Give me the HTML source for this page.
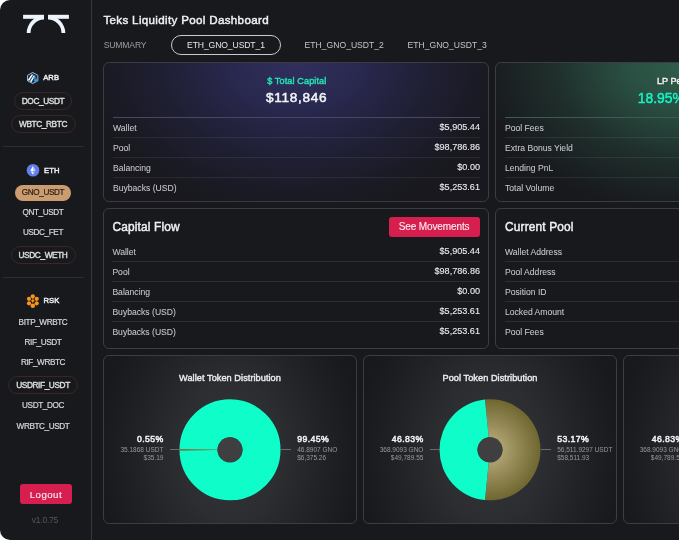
<!DOCTYPE html><html><head><meta charset="utf-8"><title>Teks Liquidity Pool Dashboard</title><style>
*{margin:0;padding:0;box-sizing:border-box}
html,body{width:679px;height:540px;overflow:hidden;background:#fff}
body{position:relative;font-family:"Liberation Sans",Arial,sans-serif}
.app{position:absolute;left:0;top:0;width:900px;height:540px;background:#18191d;border-radius:10px 0 0 10px;overflow:hidden}
.t{position:absolute;line-height:1;white-space:nowrap}
</style></head><body><div class="app">
<div style="position:absolute;left:91px;top:0px;width:1px;height:540px;background:#34373b"></div>
<svg style="position:absolute;left:0;top:0" width="91" height="40" viewBox="0 0 91 40"><g fill="#eef4fb">
<rect x="23.1" y="14.8" width="20.9" height="4"/>
<path d="M44 15.7 A17.3 17.3 0 0 0 26.7 33 L30.5 33 A13.5 13.5 0 0 1 44 19.5 Z"/>
<rect x="48" y="14.8" width="20.9" height="4"/>
<path d="M48 15.7 A17.3 17.3 0 0 1 65.3 33 L61.5 33 A13.5 13.5 0 0 0 48 19.5 Z"/>
</g></svg>
<svg style="position:absolute;left:24px;top:69px" width="18" height="18" viewBox="0 0 18 18">
<polygon points="8.7,3.4 13.9,6.3 13.9,11.8 8.7,14.6 3.5,11.8 3.5,6.3" fill="#22344c" stroke="#8fb6da" stroke-width="1" stroke-linejoin="round"/>
<path d="M3.6 11.2 L7.6 5.6 L9.2 5.6 L5.2 11.8 Z" fill="#fff"/>
<path d="M6 12.6 L9.6 6.6 L11 6.8 L7.4 13.2 Z" fill="#fff"/>
<path d="M9.4 8.4 L11 7.6 L13.8 11.6 L12.3 13.2 L10.4 12.4 Z" fill="#28a0f0"/>
<path d="M10.2 10.2 L12.6 9.6" stroke="#1a3350" stroke-width="0.7"/>
</svg>
<div class="t" style="top:74.37px;font-size:7.6px;color:#ebebed;letter-spacing:0.1px;-webkit-text-stroke:0.45px #ebebed;left:43.20px;">ARB</div>
<div style="position:absolute;left:14.0px;top:92px;width:58px;height:18px;border-radius:9.0px;border:1px solid #3b2621"></div>
<div class="t" style="top:97.37px;font-size:8.3px;color:#dcdcde;letter-spacing:-0.4px;-webkit-text-stroke:0.4px #dcdcde;left:-257.00px;width:600px;text-align:center;">DOC_USDT</div>
<div style="position:absolute;left:10.5px;top:114.7px;width:65px;height:18px;border-radius:9.0px;border:1px solid #3b2621"></div>
<div class="t" style="top:119.57px;font-size:8.3px;color:#dcdcde;letter-spacing:-0.4px;-webkit-text-stroke:0.4px #dcdcde;left:-257.00px;width:600px;text-align:center;">WBTC_RBTC</div>
<div style="position:absolute;left:3px;top:146px;width:81px;height:1px;background:#2b2d31"></div>
<svg style="position:absolute;left:26px;top:164px" width="14" height="14" viewBox="0 0 14 14">
<circle cx="7" cy="6.3" r="6.3" fill="#627eea"/>
<path d="M7 1.9 L7 7.8 L4.4 6.4 Z" fill="#fff"/>
<path d="M7 1.9 L9.6 6.4 L7 7.8 Z" fill="#fff" opacity="0.6"/>
<path d="M7 8.4 L7 10.7 L4.4 7.1 Z" fill="#fff"/>
<path d="M7 8.4 L9.6 7.1 L7 10.7 Z" fill="#fff" opacity="0.6"/>
</svg>
<div class="t" style="top:166.67px;font-size:7.6px;color:#ebebed;letter-spacing:0.1px;-webkit-text-stroke:0.45px #ebebed;left:44.00px;">ETH</div>
<div style="position:absolute;left:15px;top:184.7px;width:56px;height:16px;border-radius:8.0px;background:#cc9c71"></div>
<div class="t" style="top:188.66px;font-size:8.2px;color:#2b2119;letter-spacing:-0.4px;-webkit-text-stroke:0.2px #2b2119;left:-257.00px;width:600px;text-align:center;">GNO_USDT</div>
<div class="t" style="top:208.96px;font-size:8.2px;color:#d6d6d8;letter-spacing:-0.4px;-webkit-text-stroke:0.2px #d6d6d8;left:-257.00px;width:600px;text-align:center;">QNT_USDT</div>
<div class="t" style="top:229.36px;font-size:8.2px;color:#d6d6d8;letter-spacing:-0.4px;-webkit-text-stroke:0.2px #d6d6d8;left:-257.00px;width:600px;text-align:center;">USDC_FET</div>
<div style="position:absolute;left:10.5px;top:245.8px;width:65px;height:18px;border-radius:9.0px;border:1px solid #3b2621"></div>
<div class="t" style="top:250.57px;font-size:8.3px;color:#dcdcde;letter-spacing:-0.4px;-webkit-text-stroke:0.4px #dcdcde;left:-257.00px;width:600px;text-align:center;">USDC_WETH</div>
<div style="position:absolute;left:3px;top:277px;width:81px;height:1px;background:#2b2d31"></div>
<svg style="position:absolute;left:24px;top:292px" width="18" height="18" viewBox="0 0 18 18"><g fill="#f8951d">
<circle cx="8.8" cy="4.3" r="2.1"/><circle cx="5" cy="6.8" r="2.1"/><circle cx="12.7" cy="6.8" r="2.1"/>
<circle cx="5" cy="11.3" r="2.1"/><circle cx="12.7" cy="11.3" r="2.1"/><circle cx="8.8" cy="13.7" r="2.3"/>
<path d="M6.8 8 L10.8 8 L8.8 11 Z"/><rect x="7.9" y="6.4" width="1.8" height="1.2"/></g></svg>
<div class="t" style="top:297.47px;font-size:7.6px;color:#ebebed;letter-spacing:0.1px;-webkit-text-stroke:0.45px #ebebed;left:43.40px;">RSK</div>
<div class="t" style="top:319.36px;font-size:8.2px;color:#d6d6d8;letter-spacing:-0.4px;-webkit-text-stroke:0.2px #d6d6d8;left:-257.00px;width:600px;text-align:center;">BITP_WRBTC</div>
<div class="t" style="top:339.36px;font-size:8.2px;color:#d6d6d8;letter-spacing:-0.4px;-webkit-text-stroke:0.2px #d6d6d8;left:-257.00px;width:600px;text-align:center;">RIF_USDT</div>
<div class="t" style="top:359.46px;font-size:8.2px;color:#d6d6d8;letter-spacing:-0.4px;-webkit-text-stroke:0.2px #d6d6d8;left:-257.00px;width:600px;text-align:center;">RIF_WRBTC</div>
<div style="position:absolute;left:8.0px;top:376.4px;width:70px;height:18px;border-radius:9.0px;border:1px solid #3b2621"></div>
<div class="t" style="top:381.37px;font-size:8.3px;color:#dcdcde;letter-spacing:-0.4px;-webkit-text-stroke:0.4px #dcdcde;left:-257.00px;width:600px;text-align:center;">USDRIF_USDT</div>
<div class="t" style="top:402.46px;font-size:8.2px;color:#d6d6d8;letter-spacing:-0.4px;-webkit-text-stroke:0.2px #d6d6d8;left:-257.00px;width:600px;text-align:center;">USDT_DOC</div>
<div class="t" style="top:422.66px;font-size:8.2px;color:#d6d6d8;letter-spacing:-0.4px;-webkit-text-stroke:0.2px #d6d6d8;left:-257.00px;width:600px;text-align:center;">WRBTC_USDT</div>
<div style="position:absolute;left:20px;top:484px;width:52px;height:20px;background:#d61f4f;border-radius:3px"></div>
<div class="t" style="top:489.99px;font-size:9.7px;color:#fbeef1;letter-spacing:0.45px;-webkit-text-stroke:0.12px #fbeef1;left:-254.10px;width:600px;text-align:center;">Logout</div>
<div class="t" style="top:515.90px;font-size:8.5px;color:#53575d;letter-spacing:-0.2px;left:-255.10px;width:600px;text-align:center;">v1.0.75</div>
<div class="t" style="top:13.78px;font-size:11.6px;color:#f0f0f2;letter-spacing:0.33px;-webkit-text-stroke:0.45px #f0f0f2;left:103.40px;">Teks Liquidity Pool Dashboard</div>
<div class="t" style="top:40.92px;font-size:8.6px;color:#9c9ea2;letter-spacing:-0.15px;left:103.70px;">SUMMARY</div>
<div style="position:absolute;left:171px;top:35px;width:110px;height:20px;border:1px solid #c9cacd;border-radius:10px"></div>
<div class="t" style="top:40.92px;font-size:8.6px;color:#e6e6e8;letter-spacing:-0.1px;left:187.00px;">ETH_GNO_USDT_1</div>
<div class="t" style="top:40.92px;font-size:8.6px;color:#c4c5c8;left:304.60px;">ETH_GNO_USDT_2</div>
<div class="t" style="top:40.92px;font-size:8.6px;color:#c4c5c8;left:407.50px;">ETH_GNO_USDT_3</div>
<div style="position:absolute;left:103px;top:62px;width:386px;height:140px;border:1px solid #3a3b45;border-radius:6px;background:radial-gradient(ellipse 210px 150px at 50% 0%,#31305e 0%,#29284f 30%,#1f1f33 65%,#18181e 100%)"></div>
<div class="t" style="top:76.80px;font-size:9.1px;color:#22e6b4;letter-spacing:0.12px;-webkit-text-stroke:0.4px #22e6b4;left:-3.20px;width:600px;text-align:center;">$ Total Capital</div>
<div class="t" style="top:90.99px;font-size:13.6px;color:#f4f4f7;letter-spacing:0.7px;-webkit-text-stroke:0.5px #f4f4f7;left:-3.40px;width:600px;text-align:center;">$118,846</div>
<div style="position:absolute;left:113px;top:117px;width:367px;height:1px;background:#474860"></div>
<div class="t" style="top:123.82px;font-size:8.6px;color:#c9cace;-webkit-text-stroke:0.05px #c9cace;left:113.00px;">Wallet</div>
<div class="t" style="top:123.40px;font-size:9.1px;color:#ececee;-webkit-text-stroke:0.1px #ececee;left:80.00px;width:400px;text-align:right;">$5,905.44</div>
<div style="position:absolute;left:113px;top:137px;width:367px;height:1px;background:rgba(255,255,255,0.07)"></div>
<div class="t" style="top:143.82px;font-size:8.6px;color:#c9cace;-webkit-text-stroke:0.05px #c9cace;left:113.00px;">Pool</div>
<div class="t" style="top:143.40px;font-size:9.1px;color:#ececee;-webkit-text-stroke:0.1px #ececee;left:80.00px;width:400px;text-align:right;">$98,786.86</div>
<div style="position:absolute;left:113px;top:157px;width:367px;height:1px;background:rgba(255,255,255,0.07)"></div>
<div class="t" style="top:163.82px;font-size:8.6px;color:#c9cace;-webkit-text-stroke:0.05px #c9cace;left:113.00px;">Balancing</div>
<div class="t" style="top:163.40px;font-size:9.1px;color:#ececee;-webkit-text-stroke:0.1px #ececee;left:80.00px;width:400px;text-align:right;">$0.00</div>
<div style="position:absolute;left:113px;top:177px;width:367px;height:1px;background:rgba(255,255,255,0.07)"></div>
<div class="t" style="top:183.82px;font-size:8.6px;color:#c9cace;-webkit-text-stroke:0.05px #c9cace;left:113.00px;">Buybacks (USD)</div>
<div class="t" style="top:183.40px;font-size:9.1px;color:#ececee;-webkit-text-stroke:0.1px #ececee;left:80.00px;width:400px;text-align:right;">$5,253.61</div>
<div style="position:absolute;left:495px;top:62px;width:386px;height:140px;border:1px solid #3a3f3e;border-radius:6px;background:radial-gradient(ellipse 210px 150px at 50% 0%,#2f5e4c 0%,#2a4f42 30%,#1f2e2b 65%,#18191d 100%)"></div>
<div class="t" style="top:76.60px;font-size:9.1px;color:#f2f2f5;-webkit-text-stroke:0.4px #f2f2f5;left:657.00px;">LP Performance</div>
<div class="t" style="top:91.53px;font-size:13.9px;color:#14f4c2;-webkit-text-stroke:0.45px #14f4c2;left:637.80px;">18.95%</div>
<div style="position:absolute;left:505px;top:117px;width:400px;height:1px;background:#3f5a50"></div>
<div class="t" style="top:123.82px;font-size:8.6px;color:#c9cace;-webkit-text-stroke:0.05px #c9cace;left:505.00px;">Pool Fees</div>
<div style="position:absolute;left:505px;top:137px;width:400px;height:1px;background:rgba(255,255,255,0.075)"></div>
<div class="t" style="top:143.82px;font-size:8.6px;color:#c9cace;-webkit-text-stroke:0.05px #c9cace;left:505.00px;">Extra Bonus Yield</div>
<div style="position:absolute;left:505px;top:157px;width:400px;height:1px;background:rgba(255,255,255,0.075)"></div>
<div class="t" style="top:163.82px;font-size:8.6px;color:#c9cace;-webkit-text-stroke:0.05px #c9cace;left:505.00px;">Lending PnL</div>
<div style="position:absolute;left:505px;top:177px;width:400px;height:1px;background:rgba(255,255,255,0.075)"></div>
<div class="t" style="top:183.82px;font-size:8.6px;color:#c9cace;-webkit-text-stroke:0.05px #c9cace;left:505.00px;">Total Volume</div>
<div style="position:absolute;left:103px;top:208px;width:386px;height:141px;border:1px solid #3a3d41;border-radius:6px"></div>
<div class="t" style="top:222.03px;font-size:11.9px;color:#f0f0f2;letter-spacing:0.15px;-webkit-text-stroke:0.45px #f0f0f2;left:112.50px;">Capital Flow</div>
<div style="position:absolute;left:388.5px;top:217px;width:91.5px;height:19.5px;background:#d61f4f;border-radius:3px"></div>
<div class="t" style="top:222.23px;font-size:10px;color:#fbeef1;letter-spacing:-0.12px;-webkit-text-stroke:0.1px #fbeef1;left:134.10px;width:600px;text-align:center;">See Movements</div>
<div class="t" style="top:247.82px;font-size:8.6px;color:#c9cace;-webkit-text-stroke:0.05px #c9cace;left:112.40px;">Wallet</div>
<div class="t" style="top:247.40px;font-size:9.1px;color:#ececee;-webkit-text-stroke:0.1px #ececee;left:80.00px;width:400px;text-align:right;">$5,905.44</div>
<div style="position:absolute;left:112px;top:261px;width:368px;height:1px;background:#2c2e33"></div>
<div class="t" style="top:267.82px;font-size:8.6px;color:#c9cace;-webkit-text-stroke:0.05px #c9cace;left:112.40px;">Pool</div>
<div class="t" style="top:267.40px;font-size:9.1px;color:#ececee;-webkit-text-stroke:0.1px #ececee;left:80.00px;width:400px;text-align:right;">$98,786.86</div>
<div style="position:absolute;left:112px;top:281px;width:368px;height:1px;background:#2c2e33"></div>
<div class="t" style="top:287.82px;font-size:8.6px;color:#c9cace;-webkit-text-stroke:0.05px #c9cace;left:112.40px;">Balancing</div>
<div class="t" style="top:287.40px;font-size:9.1px;color:#ececee;-webkit-text-stroke:0.1px #ececee;left:80.00px;width:400px;text-align:right;">$0.00</div>
<div style="position:absolute;left:112px;top:301px;width:368px;height:1px;background:#2c2e33"></div>
<div class="t" style="top:307.82px;font-size:8.6px;color:#c9cace;-webkit-text-stroke:0.05px #c9cace;left:112.40px;">Buybacks (USD)</div>
<div class="t" style="top:307.40px;font-size:9.1px;color:#ececee;-webkit-text-stroke:0.1px #ececee;left:80.00px;width:400px;text-align:right;">$5,253.61</div>
<div style="position:absolute;left:112px;top:321px;width:368px;height:1px;background:#2c2e33"></div>
<div class="t" style="top:327.82px;font-size:8.6px;color:#c9cace;-webkit-text-stroke:0.05px #c9cace;left:112.40px;">Buybacks (USD)</div>
<div class="t" style="top:327.40px;font-size:9.1px;color:#ececee;-webkit-text-stroke:0.1px #ececee;left:80.00px;width:400px;text-align:right;">$5,253.61</div>
<div style="position:absolute;left:495px;top:208px;width:386px;height:141px;border:1px solid #3a3d41;border-radius:6px"></div>
<div class="t" style="top:222.13px;font-size:11.9px;color:#f0f0f2;letter-spacing:0.15px;-webkit-text-stroke:0.45px #f0f0f2;left:505.10px;">Current Pool</div>
<div class="t" style="top:247.82px;font-size:8.6px;color:#c9cace;-webkit-text-stroke:0.05px #c9cace;left:505.00px;">Wallet Address</div>
<div style="position:absolute;left:505px;top:261px;width:400px;height:1px;background:#2c2e33"></div>
<div class="t" style="top:267.82px;font-size:8.6px;color:#c9cace;-webkit-text-stroke:0.05px #c9cace;left:505.00px;">Pool Address</div>
<div style="position:absolute;left:505px;top:281px;width:400px;height:1px;background:#2c2e33"></div>
<div class="t" style="top:287.82px;font-size:8.6px;color:#c9cace;-webkit-text-stroke:0.05px #c9cace;left:505.00px;">Position ID</div>
<div style="position:absolute;left:505px;top:301px;width:400px;height:1px;background:#2c2e33"></div>
<div class="t" style="top:307.82px;font-size:8.6px;color:#c9cace;-webkit-text-stroke:0.05px #c9cace;left:505.00px;">Locked Amount</div>
<div style="position:absolute;left:505px;top:321px;width:400px;height:1px;background:#2c2e33"></div>
<div class="t" style="top:327.82px;font-size:8.6px;color:#c9cace;-webkit-text-stroke:0.05px #c9cace;left:505.00px;">Pool Fees</div>
<div style="position:absolute;left:103px;top:355px;width:254px;height:169px;border:1px solid #3a3d41;border-radius:6px;background:radial-gradient(ellipse 132px 175px at 50% 57%,#353638 0%,#2c2d30 40%,#1f2023 76%,#18191c 100%)"></div>
<div class="t" style="top:374.01px;font-size:9.2px;color:#ececee;letter-spacing:0.05px;-webkit-text-stroke:0.4px #ececee;left:-70.00px;width:600px;text-align:center;">Wallet Token Distribution</div>
<svg style="position:absolute;left:170px;top:390px" width="120" height="120" viewBox="-60 -59.8 120 120"><circle r="31.5" fill="none" stroke="#0ffec9" stroke-width="38"/><path d="M-50.492 0.881 A50.5 50.5 0 0 1 -50.492 -0.881 L-12.498 -0.218 A12.5 12.5 0 0 0 -12.498 0.218 Z" fill="#7d7440"/><circle r="12.5" fill="#3f3f41"/></svg>
<div style="position:absolute;left:169.5px;top:449px;width:10px;height:1px;background:#6b6b6d"></div>
<div style="position:absolute;left:280.7px;top:449px;width:10px;height:1px;background:#6b6b6d"></div>
<div class="t" style="top:434.54px;font-size:8.7px;color:#f0f0f2;letter-spacing:0.4px;-webkit-text-stroke:0.5px #f0f0f2;left:-236.40px;width:400px;text-align:right;">0.55%</div>
<div class="t" style="top:447.00px;font-size:6.5px;color:#98999d;left:-236.60px;width:400px;text-align:right;">35.1868 USDT</div>
<div class="t" style="top:454.80px;font-size:6.5px;color:#98999d;left:-236.60px;width:400px;text-align:right;">$35.19</div>
<div class="t" style="top:434.54px;font-size:8.7px;color:#f0f0f2;letter-spacing:0.4px;-webkit-text-stroke:0.5px #f0f0f2;left:297.20px;">99.45%</div>
<div class="t" style="top:447.00px;font-size:6.5px;color:#98999d;left:297.20px;">46.8907 GNO</div>
<div class="t" style="top:454.80px;font-size:6.5px;color:#98999d;left:297.20px;">$6,375.26</div>
<div style="position:absolute;left:363px;top:355px;width:254px;height:169px;border:1px solid #3a3d41;border-radius:6px;background:radial-gradient(ellipse 132px 175px at 50% 57%,#353638 0%,#2c2d30 40%,#1f2023 76%,#18191c 100%)"></div>
<div class="t" style="top:374.01px;font-size:9.2px;color:#ececee;letter-spacing:0.05px;-webkit-text-stroke:0.4px #ececee;left:190.00px;width:600px;text-align:center;">Pool Token Distribution</div>
<svg style="position:absolute;left:430px;top:390px" width="120" height="120" viewBox="-60 -59.8 120 120"><defs><radialGradient id="ol2" cx="0" cy="0" r="50.5" gradientUnits="userSpaceOnUse"><stop offset="0.2" stop-color="#b0a473"/><stop offset="1" stop-color="#6f6630"/></radialGradient></defs><path d="M-5.021 -50.250 A50.5 50.5 0 1 1 -5.021 50.250 L-1.243 12.438 A12.5 12.5 0 1 0 -1.243 -12.438 Z" fill="url(#ol2)"/><path d="M-5.021 50.250 A50.5 50.5 0 0 1 -5.021 -50.250 L-1.243 -12.438 A12.5 12.5 0 0 0 -1.243 12.438 Z" fill="#0ffec9"/><circle r="12.5" fill="#3f3f41"/></svg>
<div style="position:absolute;left:429.5px;top:449px;width:10px;height:1px;background:#6b6b6d"></div>
<div style="position:absolute;left:540.7px;top:449px;width:10px;height:1px;background:#6b6b6d"></div>
<div class="t" style="top:434.54px;font-size:8.7px;color:#f0f0f2;letter-spacing:0.4px;-webkit-text-stroke:0.5px #f0f0f2;left:23.60px;width:400px;text-align:right;">46.83%</div>
<div class="t" style="top:447.00px;font-size:6.5px;color:#98999d;left:23.40px;width:400px;text-align:right;">368.9093 GNO</div>
<div class="t" style="top:454.80px;font-size:6.5px;color:#98999d;left:23.40px;width:400px;text-align:right;">$49,789.55</div>
<div class="t" style="top:434.54px;font-size:8.7px;color:#f0f0f2;letter-spacing:0.4px;-webkit-text-stroke:0.5px #f0f0f2;left:557.20px;">53.17%</div>
<div class="t" style="top:447.00px;font-size:6.5px;color:#98999d;left:557.20px;">56,511.9297 USDT</div>
<div class="t" style="top:454.80px;font-size:6.5px;color:#98999d;left:557.20px;">$58,511.93</div>
<div style="position:absolute;left:623px;top:355px;width:254px;height:169px;border:1px solid #3a3d41;border-radius:6px;background:radial-gradient(ellipse 132px 175px at 50% 57%,#353638 0%,#2c2d30 40%,#1f2023 76%,#18191c 100%)"></div>
<div class="t" style="top:374.01px;font-size:9.2px;color:#ececee;letter-spacing:0.05px;-webkit-text-stroke:0.4px #ececee;left:450.00px;width:600px;text-align:center;">Pool Token Distribution</div>
<svg style="position:absolute;left:690px;top:390px" width="120" height="120" viewBox="-60 -59.8 120 120"><defs><radialGradient id="ol3" cx="0" cy="0" r="50.5" gradientUnits="userSpaceOnUse"><stop offset="0.2" stop-color="#b0a473"/><stop offset="1" stop-color="#6f6630"/></radialGradient></defs><path d="M-5.021 -50.250 A50.5 50.5 0 1 1 -5.021 50.250 L-1.243 12.438 A12.5 12.5 0 1 0 -1.243 -12.438 Z" fill="url(#ol3)"/><path d="M-5.021 50.250 A50.5 50.5 0 0 1 -5.021 -50.250 L-1.243 -12.438 A12.5 12.5 0 0 0 -1.243 12.438 Z" fill="#0ffec9"/><circle r="12.5" fill="#3f3f41"/></svg>
<div style="position:absolute;left:689.5px;top:449px;width:10px;height:1px;background:#6b6b6d"></div>
<div style="position:absolute;left:800.7px;top:449px;width:10px;height:1px;background:#6b6b6d"></div>
<div class="t" style="top:434.54px;font-size:8.7px;color:#f0f0f2;letter-spacing:0.4px;-webkit-text-stroke:0.5px #f0f0f2;left:283.60px;width:400px;text-align:right;">46.83%</div>
<div class="t" style="top:447.00px;font-size:6.5px;color:#98999d;left:283.40px;width:400px;text-align:right;">368.9093 GNO</div>
<div class="t" style="top:454.80px;font-size:6.5px;color:#98999d;left:283.40px;width:400px;text-align:right;">$49,789.55</div>
<div class="t" style="top:434.54px;font-size:8.7px;color:#f0f0f2;letter-spacing:0.4px;-webkit-text-stroke:0.5px #f0f0f2;left:817.20px;">53.17%</div>
<div class="t" style="top:447.00px;font-size:6.5px;color:#98999d;left:817.20px;">56,511.9297 USDT</div>
<div class="t" style="top:454.80px;font-size:6.5px;color:#98999d;left:817.20px;">$58,511.93</div>
</div></body></html>
